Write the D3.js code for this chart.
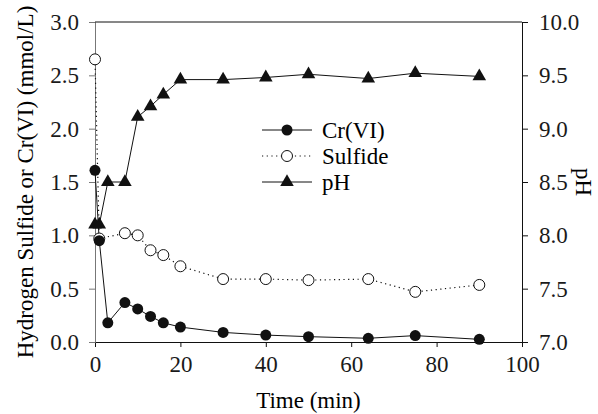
<!DOCTYPE html>
<html>
<head>
<meta charset="utf-8">
<script src="https://cdn.jsdelivr.net/npm/d3@7"></script>
<style>
    body { margin: 0; background: #fff; }
</style>
</head>
<body>
<div id="chart"></div>
<script>
// values
const crTime = [0, 1, 3, 7, 10, 13, 16, 20, 30, 40, 50, 64, 75, 90];
const crValues = [1.61, 0.95, 0.18, 0.37, 0.31, 0.24, 0.18, 0.14, 0.09, 0.065, 0.05, 0.035, 0.06, 0.025];

const sulfideTime = [0, 1, 7, 10, 13, 16, 20, 30, 40, 50, 64, 75, 90];
const sulfideValues = [2.65, 0.97, 1.02, 1.00, 0.86, 0.815, 0.71, 0.59, 0.59, 0.58, 0.59, 0.47, 0.535];

const phTime = [0, 1, 3, 7, 10, 13, 16, 20, 30, 40, 50, 64, 75, 90];
const phValues = [8.1, 8.1, 8.5, 8.5, 9.11, 9.21, 9.32, 9.46, 9.46, 9.48, 9.51, 9.47, 9.52, 9.49];

const xTicks = [0, 20, 40, 60, 80, 100];
const leftTicks = [0, 0.5, 1.0, 1.5, 2.0, 2.5, 3.0];
const rightTicks = [7.0, 7.5, 8.0, 8.5, 9.0, 9.5, 10.0];
const legendLabels = ["Cr(VI)", "Sulfide", "pH"];

const FONT = "'Liberation Serif', 'Times New Roman', Times";

document.addEventListener("DOMContentLoaded", drawChart)

function drawChart(){
    const width = 598;
    const height = 414;
    const margin = {top: 22, right: 76, bottom: 72, left: 95};
    const w = width - margin.left - margin.right;
    const h = height - margin.top - margin.bottom;

    const svg = d3.select("#chart").append("svg")
        .attr("width", width)
        .attr("height", height)
        .attr("font-family", FONT);
    const g = svg.append("g")
        .attr("transform", "translate(" + margin.left + "," + margin.top + ")");

    const x = d3.scaleLinear().domain([0, 100]).range([0, w]);
    const yLeft = d3.scaleLinear().domain([0, 3]).range([h, 0]);
    const yRight = d3.scaleLinear().domain([7, 10]).range([h, 0]);

    // axes
    const bottomAxis = g.append("g")
        .attr("transform", "translate(0," + h + ")")
        .call(d3.axisBottom(x).tickValues(xTicks).tickFormat(d3.format("d")).tickSizeOuter(0).tickSize(5).tickPadding(9));
    const leftAxis = g.append("g")
        .call(d3.axisLeft(yLeft).tickValues(leftTicks).tickFormat(d3.format(".1f")).tickSizeOuter(0).tickSize(6).tickPadding(10));
    const rightAxis = g.append("g")
        .attr("transform", "translate(" + w + ",0)")
        .call(d3.axisRight(yRight).tickValues(rightTicks).tickFormat(d3.format(".1f")).tickSizeOuter(0).tickSize(6).tickPadding(11));
    g.append("line")
        .attr("x1", 0).attr("x2", w).attr("y1", 0).attr("y2", 0)
        .attr("stroke", "#111");

    [bottomAxis, leftAxis, rightAxis].forEach(a => {
        a.attr("font-family", null).attr("font-size", null);
        a.selectAll("text").style("font-size", "23px").attr("fill", "#1a1a1a");
        a.selectAll("path, line").attr("stroke", "#111");
    })
    leftAxis.selectAll("path, line").attr("stroke", "#777");

    // axis titles
    g.append("text")
        .attr("x", w / 2).attr("y", h + 66)
        .attr("text-anchor", "middle")
        .style("font-size", "23px")
        .text("Time (min)");
    g.append("text")
        .attr("transform", "translate(" + (25 - margin.left) + "," + (h / 2) + ") rotate(-90)")
        .attr("text-anchor", "middle")
        .attr("dy", "0.35em")
        .style("font-size", "23px")
        .text("Hydrogen Sulfide or Cr(VI) (mmol/L)");
    g.append("text")
        .attr("transform", "translate(" + (584 - margin.left) + "," + (h / 2) + ") rotate(90)")
        .attr("text-anchor", "middle")
        .attr("dy", "0.35em")
        .style("font-size", "23px")
        .text("pH");

    const crData = crTime.map((t, i) => ({t: t, v: crValues[i]}));
    const sulfideData = sulfideTime.map((t, i) => ({t: t, v: sulfideValues[i]}));
    const phData = phTime.map((t, i) => ({t: t, v: phValues[i]}));

    const lineLeft = d3.line().x(d => x(d.t)).y(d => yLeft(d.v));
    const lineRight = d3.line().x(d => x(d.t)).y(d => yRight(d.v));
    const triangle = d3.symbol().type(d3.symbolTriangle).size(80);

    // lines
    g.append("path").datum(crData)
        .attr("d", lineLeft).attr("fill", "none").attr("stroke", "#111").attr("stroke-width", 1);
    g.append("path").datum(sulfideData)
        .attr("d", lineLeft).attr("fill", "none").attr("stroke", "#111").attr("stroke-width", 1.2)
        .attr("stroke-dasharray", "1.2,3.5");
    g.append("path").datum(phData)
        .attr("d", lineRight).attr("fill", "none").attr("stroke", "#111").attr("stroke-width", 1);

    // markers
    g.append("g").selectAll("circle")
        .data(sulfideData).enter().append("circle")
        .attr("cx", d => x(d.t)).attr("cy", d => yLeft(d.v)).attr("r", 5.5)
        .attr("fill", "#fff").attr("stroke", "#111").attr("stroke-width", 1);
    g.append("g").selectAll("circle")
        .data(crData).enter().append("circle")
        .attr("cx", d => x(d.t)).attr("cy", d => yLeft(d.v)).attr("r", 5.5)
        .attr("fill", "#111");
    g.append("g").selectAll("path")
        .data(phData).enter().append("path")
        .attr("d", triangle)
        .attr("transform", d => "translate(" + x(d.t) + "," + yRight(d.v) + ")")
        .attr("fill", "#111");

    // legend
    const legend = svg.append("g").attr("transform", "translate(262,130)");
    legendLabels.forEach((label, i) => {
        const row = legend.append("g").attr("transform", "translate(0," + (i * 26) + ")");
        const ln = row.append("line").attr("x1", 0).attr("x2", 50).attr("y1", 0).attr("y2", 0)
            .attr("stroke", "#111");
        if (i == 1) {
            ln.attr("stroke-dasharray", "1.2,3.5").attr("stroke-width", 1.2);
            row.append("circle").attr("cx", 25).attr("cy", 0).attr("r", 5.5)
                .attr("fill", "#fff").attr("stroke", "#111");
        } else if (i == 0) {
            row.append("circle").attr("cx", 25).attr("cy", 0).attr("r", 5.5).attr("fill", "#111");
        } else {
            row.append("path").attr("d", triangle).attr("transform", "translate(25,0)").attr("fill", "#111");
        }
        row.append("text").attr("x", 60).attr("y", 0).attr("dy", "0.35em")
            .style("font-size", "23px")
            .text(label);
    })

    svg.selectAll("text").style("font-family", FONT);
}
</script>
</body>
</html>
